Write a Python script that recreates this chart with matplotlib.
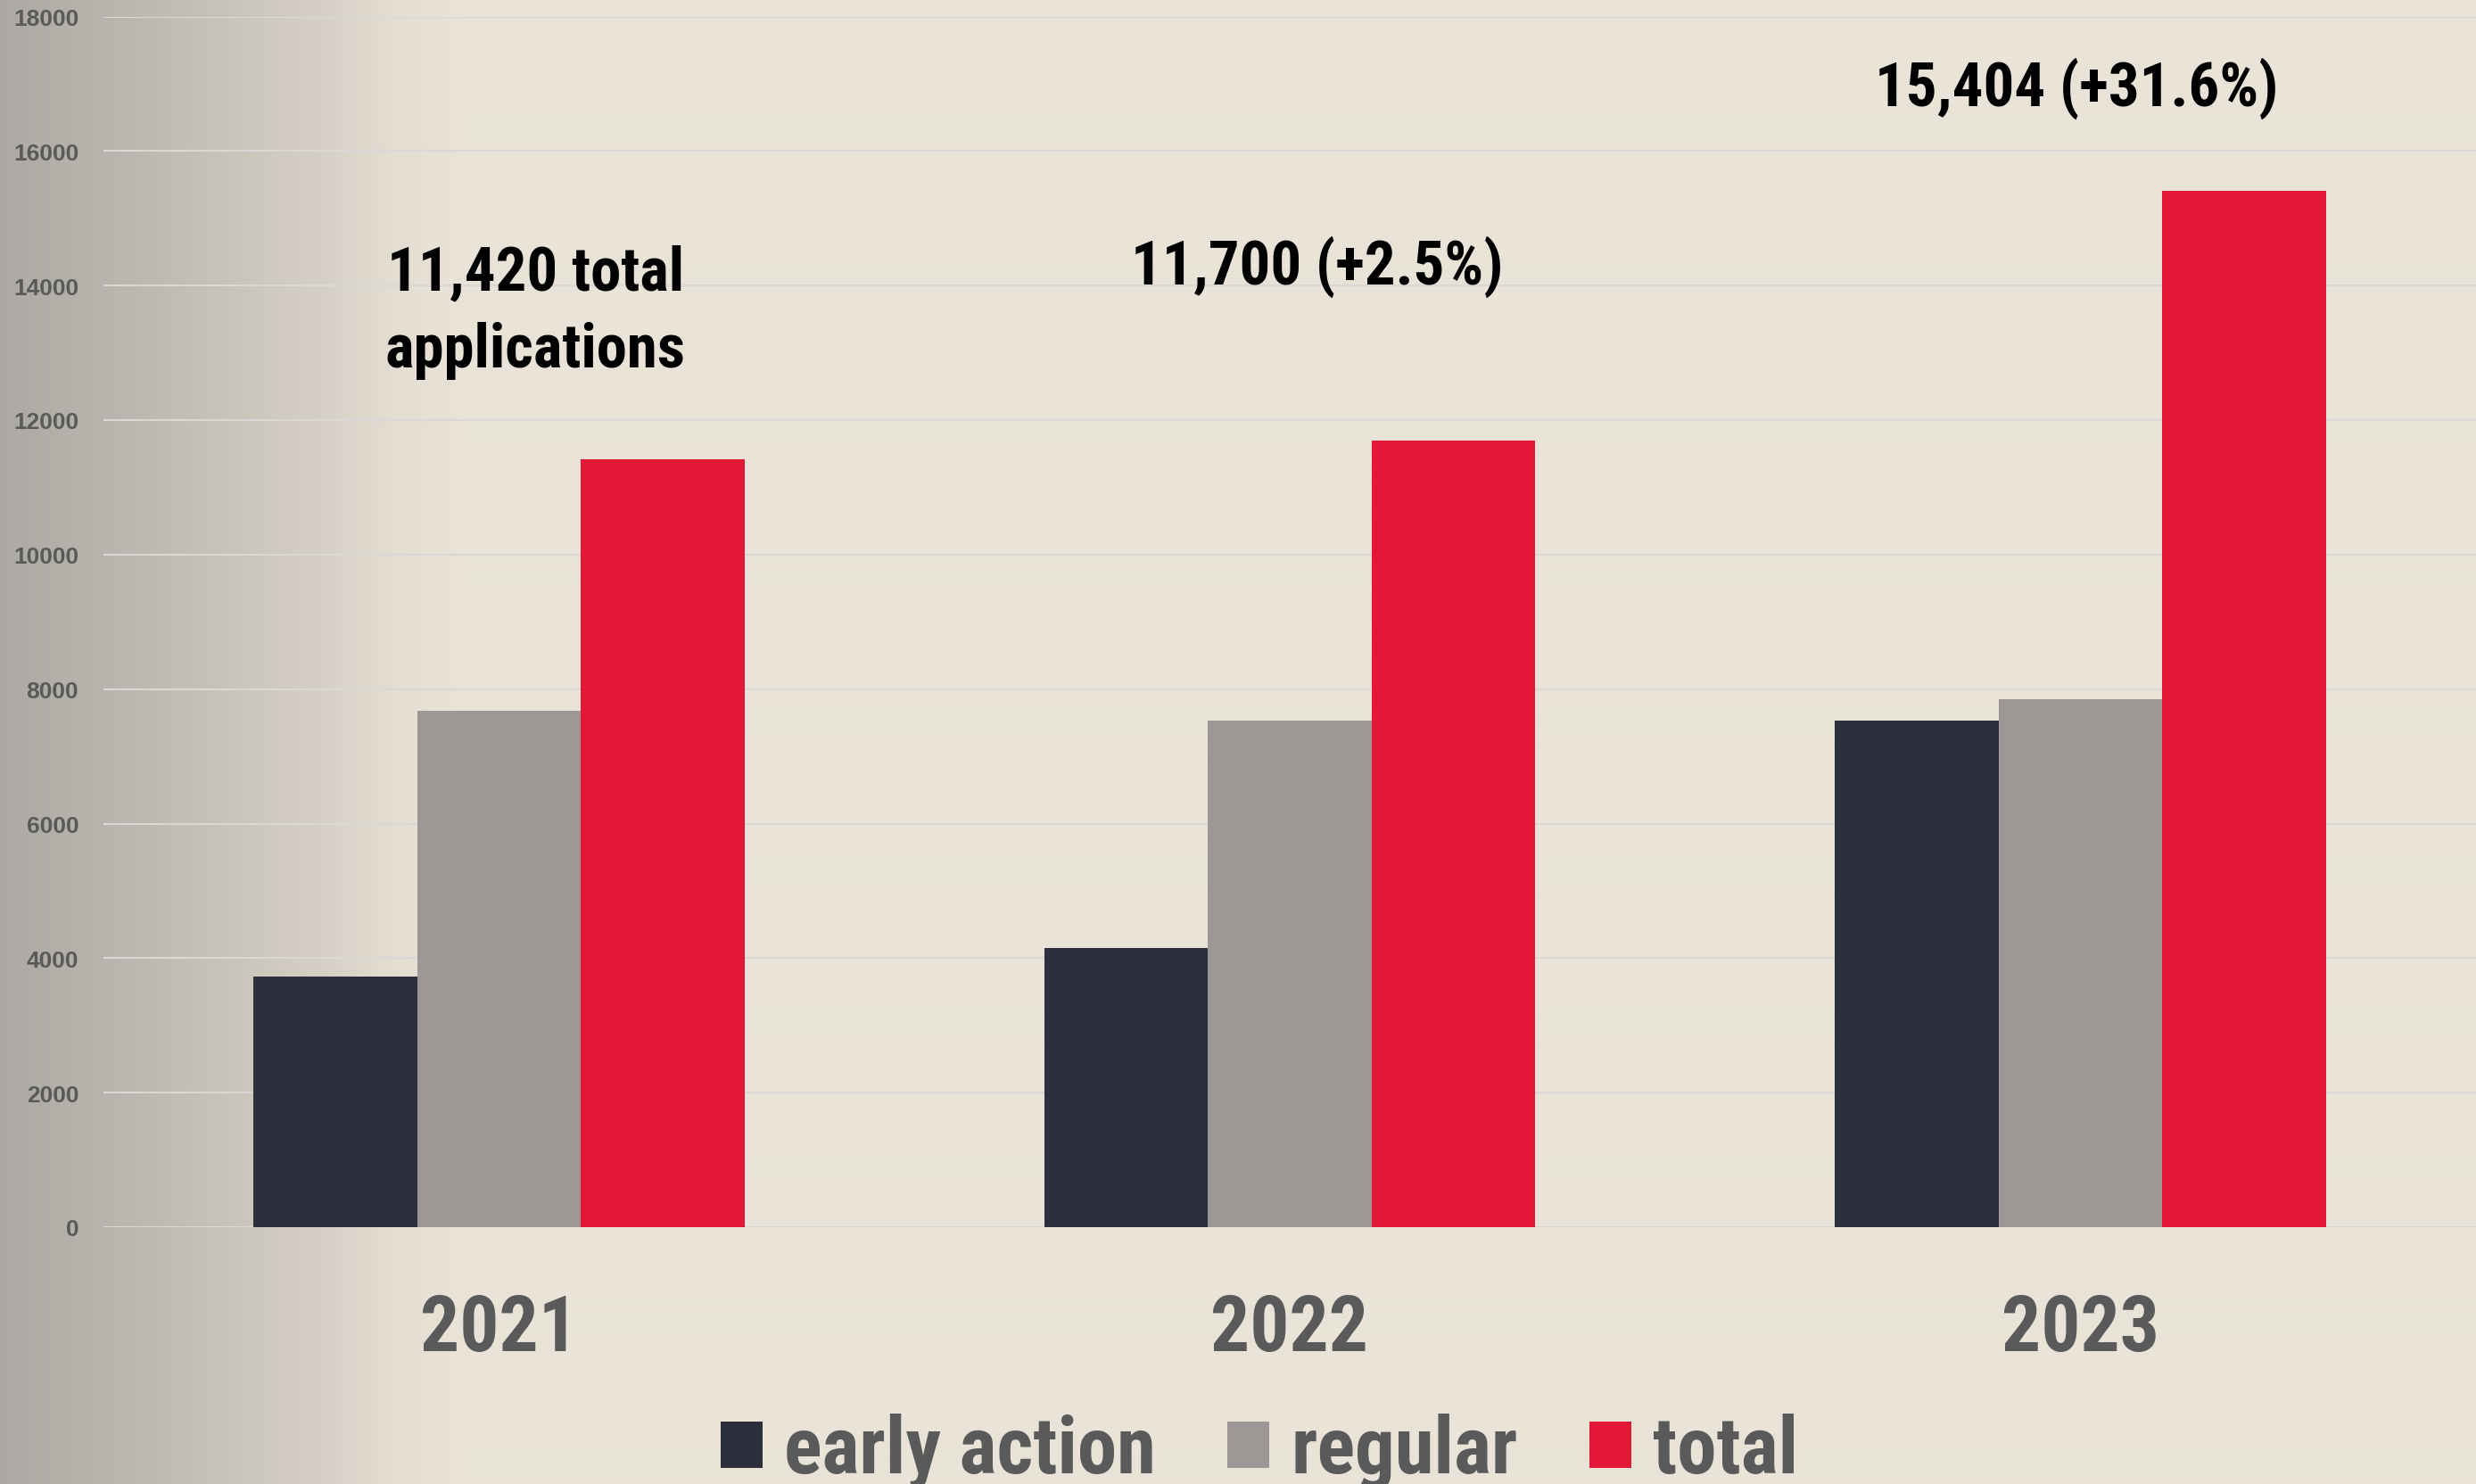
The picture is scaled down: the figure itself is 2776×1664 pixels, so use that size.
import numpy as np
import matplotlib
matplotlib.use("Agg")
import matplotlib.pyplot as plt
from matplotlib.patches import Patch

# ---------------- data ----------------
years = ["2021", "2022", "2023"]
early_action = [3725, 4155, 7525]
regular = [7680, 7525, 7855]
total = [11420, 11700, 15404]
y_ticks = [0, 2000, 4000, 6000, 8000, 10000, 12000, 14000, 16000, 18000]
series_labels = ["early action", "regular", "total"]
annotations = ["11,420 total\napplications", "11,700 (+2.5%)", "15,404 (+31.6%)"]

# ---------------- style ----------------
W, H = 2776, 1665
C_EARLY = "#2c2f3c"
C_REG = "#9c9895"
C_TOT = "#e31837"
TXT_GREY = "#5a5a5a"
NARROW = ["Liberation Sans Narrow", "Roboto Condensed", "DejaVu Sans"]
WIDE = ["Liberation Sans", "DejaVu Sans"]

fig = plt.figure(figsize=(W / 100, H / 100), dpi=100)

# background gradient
bg = fig.add_axes([0, 0, 1, 1], zorder=-10)
bg.set_axis_off()
px = np.arange(W)
stops_x = [0, 170, 280, 360, 440, 520, W]
stops_c = np.array([(172, 169, 164), (190, 186, 178), (204, 199, 189),
                    (214, 207, 197), (227, 221, 210), (233, 227, 216), (233, 227, 216)]) / 255.0
grad = np.stack([np.interp(px, stops_x, stops_c[:, i]) for i in range(3)], axis=-1)
grad = np.tile(grad[None, :, :], (10, 1, 1))
bg.imshow(grad, aspect="auto", extent=[0, 1, 0, 1])
bg.set_xlim(0, 1)
bg.set_ylim(0, 1)

# main axes
left, right = 116 / W, 1.0
bottom, top = 1 - 1377 / H, 1 - 19.5 / H
ax = fig.add_axes([left, bottom, right - left, top - bottom])
ax.set_facecolor("none")

x = np.arange(len(years))
bw = 0.207
ax.bar(x - bw, early_action, bw, color=C_EARLY, zorder=3, label=series_labels[0])
ax.bar(x, regular, bw, color=C_REG, zorder=3, label=series_labels[1])
ax.bar(x + bw, total, bw, color=C_TOT, zorder=3, label=series_labels[2])

ax.set_xlim(-0.5, 2.5)
ax.set_ylim(0, 18000)
ax.set_yticks(y_ticks)
ax.set_yticklabels([str(v) for v in y_ticks])
ax.grid(axis="y", color="#d9d8d5", lw=1.5, zorder=0)
ax.set_axisbelow(True)
for s in ax.spines.values():
    s.set_visible(False)
ax.tick_params(axis="both", length=0)
ax.tick_params(axis="y", pad=20)
for t in ax.get_yticklabels():
    t.set_fontfamily(WIDE)
    t.set_fontweight("bold")
    t.set_fontsize(19)
    t.set_color(TXT_GREY)

ax.set_xticks(x)
ax.set_xticklabels(years)
ax.tick_params(axis="x", pad=52)
for t in ax.get_xticklabels():
    t.set_fontfamily(NARROW)
    t.set_fontweight("bold")
    t.set_fontsize(63)
    t.set_color(TXT_GREY)

# annotations (y = baseline of the last line)
ann_pos = [(0.046, 12800), (1.035, 14028), (1.995, 16682)]
for (ax_x, ax_y), txt in zip(ann_pos, annotations):
    ax.text(ax_x, ax_y, txt, ha="center", va="baseline", fontsize=49.5,
            fontweight="bold", family=NARROW, color="black", linespacing=1.42,
            multialignment="center")

# legend
handles = [Patch(facecolor=C_EARLY), Patch(facecolor=C_REG), Patch(facecolor=C_TOT)]
leg = fig.legend(handles, series_labels, loc="center", bbox_to_anchor=(0.5087, 0.022),
                 ncol=3, frameon=False, handlelength=0.53, handleheight=0.53,
                 handletextpad=0.27, columnspacing=0.9, borderpad=0, borderaxespad=0,
                 prop={"family": NARROW, "weight": "bold", "size": 64},
                 labelcolor=TXT_GREY)

fig.savefig("out.png", dpi=100)
